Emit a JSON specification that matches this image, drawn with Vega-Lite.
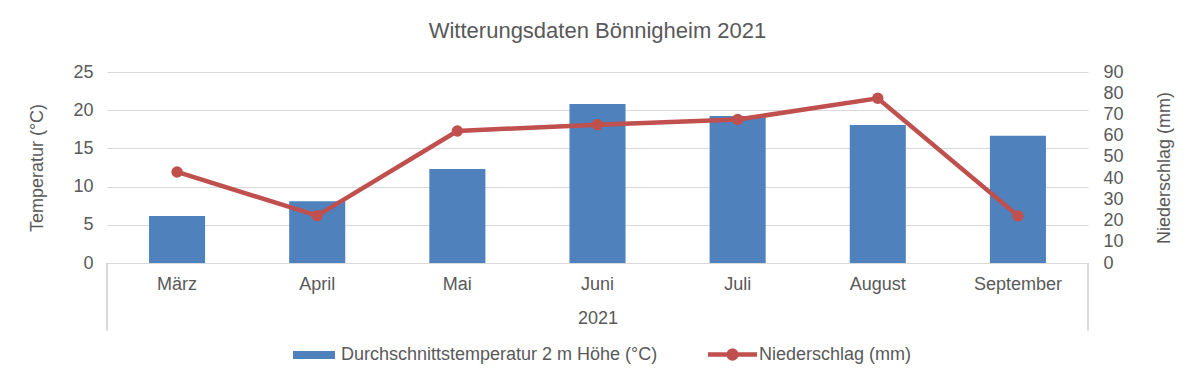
{
  "$schema": "https://vega.github.io/schema/vega-lite/v6.json",
  "autosize": {"type": "none"},
  "padding": {"left": 107, "top": 72, "right": 112, "bottom": 127},
  "width": 981,
  "height": 191,
  "background": "white",
  "config": {
    "font": "Liberation Sans",
    "view": {"stroke": null},
    "axis": {"labelColor": "#595959", "titleColor": "#595959", "labelFontSize": 18, "titleFontSize": 18, "titleFontWeight": "normal", "labelFont": "Liberation Sans", "titleFont": "Liberation Sans"},
    "legend": {"labelColor": "#595959", "labelFontSize": 18, "labelFont": "Liberation Sans", "labelLimit": 600, "padding": 0}
  },
  "title": {"text": "Witterungsdaten Bönnigheim 2021", "fontSize": 22, "fontWeight": "normal", "color": "#595959", "font": "Liberation Sans", "anchor": "middle", "offset": 20},
  "data": {"values": [
    {"Monat": "März", "Temperatur": 6.15, "Niederschlag": 42.9},
    {"Monat": "April", "Temperatur": 8.08, "Niederschlag": 22.3},
    {"Monat": "Mai", "Temperatur": 12.3, "Niederschlag": 62.2},
    {"Monat": "Juni", "Temperatur": 20.8, "Niederschlag": 65.2},
    {"Monat": "Juli", "Temperatur": 19.25, "Niederschlag": 67.6},
    {"Monat": "August", "Temperatur": 18.07, "Niederschlag": 77.6},
    {"Monat": "September", "Temperatur": 16.67, "Niederschlag": 22.2}
  ]},
  "encoding": {
    "x": {
      "field": "Monat", "type": "nominal",
      "scale": {"domain": ["März", "April", "Mai", "Juni", "Juli", "August", "September"], "paddingInner": 0, "paddingOuter": 0},
      "axis": {"title": "2021", "labelAngle": 0, "ticks": false, "domainColor": "#D9D9D9", "domainWidth": 1, "labelPadding": 12, "titlePadding": 16, "grid": false}
    }
  },
  "layer": [
    {
      "mark": {"type": "bar", "width": {"band": 0.4}},
      "encoding": {
        "y": {"field": "Temperatur", "type": "quantitative", "scale": {"domain": [0, 25], "nice": false},
          "axis": {"title": "Temperatur (°C)", "values": [0, 5, 10, 15, 20, 25], "domain": false, "ticks": false, "gridColor": "#D9D9D9", "gridWidth": 1, "labelPadding": 14, "titlePadding": 26}},
        "color": {"datum": "Durchschnittstemperatur 2 m Höhe (°C)", "type": "nominal", "scale": {"range": ["#4F81BD"]},
          "legend": {"title": null, "orient": "none", "legendX": 186, "legendY": 262, "symbolType": "M-1,-0.19H1V0.19H-1Z", "symbolSize": 1764, "labelOffset": 6, "symbolStrokeWidth": 0}}
      }
    },
    {
      "mark": {"type": "rule", "color": "#D9D9D9", "strokeWidth": 1},
      "encoding": {
        "x": {"datum": "März", "type": "nominal", "bandPosition": 0},
        "y": {"datum": 0, "type": "quantitative", "scale": {"domain": [0, 25], "nice": false}, "axis": null},
        "y2": {"datum": -8.8}
      }
    },
    {
      "mark": {"type": "rule", "color": "#D9D9D9", "strokeWidth": 1},
      "encoding": {
        "x": {"datum": "September", "type": "nominal", "bandPosition": 1},
        "y": {"datum": 0, "type": "quantitative", "scale": {"domain": [0, 25], "nice": false}, "axis": null},
        "y2": {"datum": -8.8}
      }
    },
    {
      "mark": {"type": "line", "strokeWidth": 4.5, "point": {"size": 130, "filled": true}},
      "encoding": {
        "y": {"field": "Niederschlag", "type": "quantitative", "scale": {"domain": [0, 90], "nice": false},
          "axis": {"title": "Niederschlag (mm)", "orient": "right", "titleAngle": 270, "values": [0, 10, 20, 30, 40, 50, 60, 70, 80, 90], "domain": false, "ticks": false, "grid": false, "labelPadding": 15, "titlePadding": 50}},
        "color": {"datum": "Niederschlag (mm)", "type": "nominal", "scale": {"range": ["#C0504D"]},
          "legend": {"title": null, "orient": "none", "legendX": 601, "legendY": 258, "symbolType": "M-1,-0.09H1V0.09H-1Z M-0.25,0A0.25,0.25 0 1,1 0.25,0A0.25,0.25 0 1,1 -0.25,0Z", "symbolSize": 2401, "labelOffset": 2, "symbolStrokeWidth": 0, "symbolFillColor": "#C0504D"}}
      }
    }
  ],
  "resolve": {"scale": {"y": "independent", "color": "independent"}}
}
